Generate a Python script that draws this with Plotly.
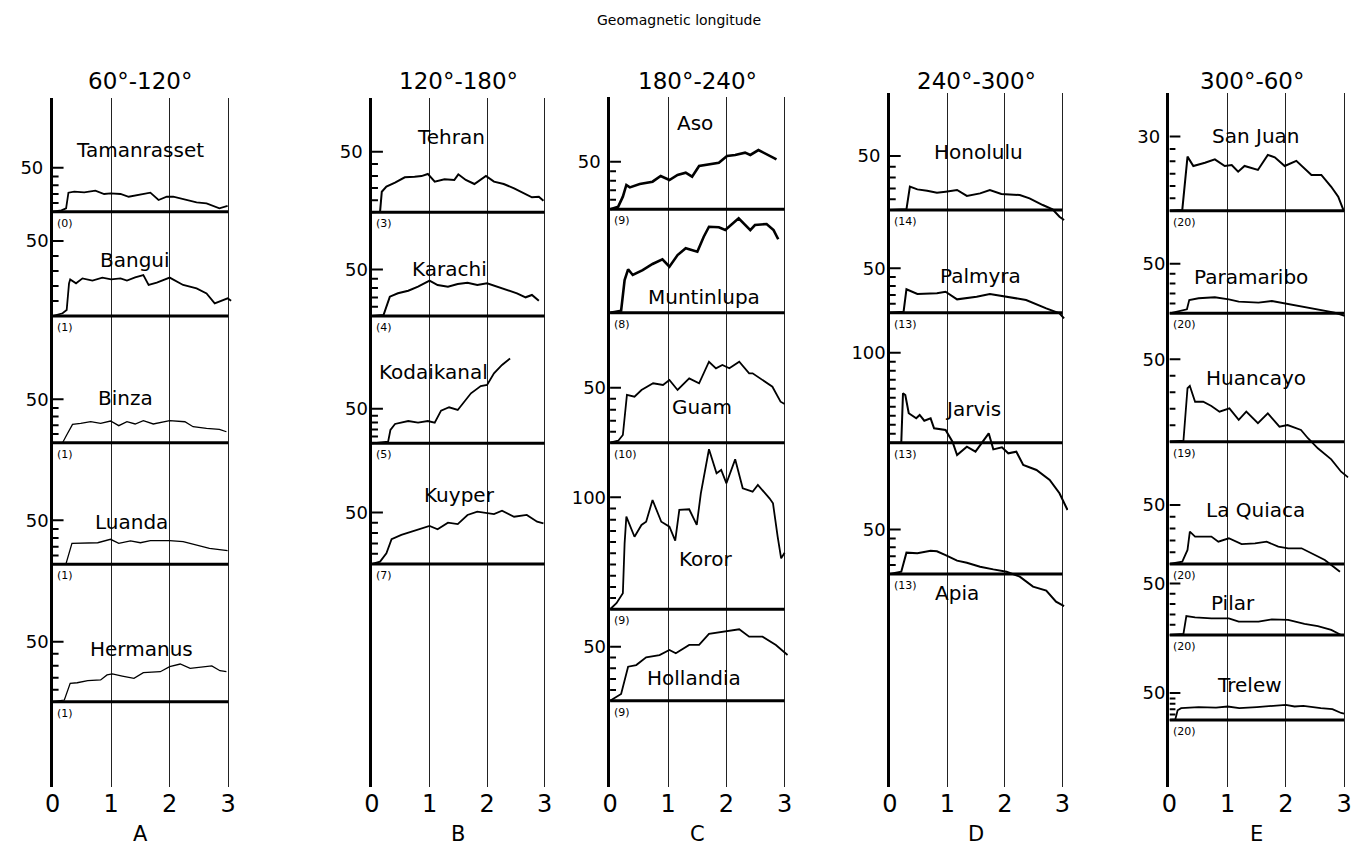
import plotly.graph_objects as go

W, H = 1352, 848
FONT = "DejaVu Sans"

# ---------------- data (hours after onset vs. amplitude) ----------------
TAMANRASSET_X = [0, 0.15, 0.23, 0.27, 0.37, 0.54, 0.73, 0.88, 0.99, 1.16, 1.30, 1.47, 1.67, 1.81, 1.95, 2.06, 2.23, 2.46, 2.63, 2.85, 2.99]
TAMANRASSET_Y = [0, 1.5, 3.8, 21.6, 22.7, 22, 23.9, 20.1, 20.8, 20.1, 17, 19, 21.6, 13.3, 17, 17, 14, 10.6, 9.5, 3.8, 6.5]

BANGUI_X = [0, 0.17, 0.24, 0.28, 0.30, 0.40, 0.51, 0.68, 0.85, 1.00, 1.16, 1.27, 1.41, 1.55, 1.64, 1.78, 2.00, 2.23, 2.46, 2.63, 2.77, 2.91, 2.99, 3.05]
BANGUI_Y = [0, 1.8, 4, 21.8, 24.4, 21.8, 25.1, 23.6, 25.6, 24.4, 25.1, 23.6, 25.8, 27.3, 20.7, 22.2, 25.6, 20.7, 18.4, 15.1, 8.4, 10.7, 11.8, 10.2]

BINZA_X = [0, 0.17, 0.24, 0.34, 0.48, 0.65, 0.82, 0.99, 1.13, 1.27, 1.41, 1.55, 1.72, 2.00, 2.26, 2.40, 2.63, 2.85, 2.97]
BINZA_Y = [0, 0, 8.9, 21.1, 22.3, 24.1, 22.3, 24.9, 19.6, 24.1, 21.5, 25.3, 21.5, 25.3, 24.1, 18.4, 16.5, 15.4, 12.6]

LUANDA_X = [0, 0.23, 0.33, 0.54, 0.77, 0.99, 1.13, 1.33, 1.50, 1.67, 2.00, 2.23, 2.46, 2.68, 2.99]
LUANDA_Y = [0, 1.1, 23.9, 24.5, 24.5, 28.4, 23.9, 26.5, 24.5, 26.8, 26.8, 25.7, 21.9, 18.2, 15.5]

HERMANUS_X = [0, 0.20, 0.30, 0.42, 0.60, 0.82, 0.93, 1.02, 1.19, 1.39, 1.55, 1.84, 2.00, 2.18, 2.35, 2.52, 2.72, 2.86, 2.97]
HERMANUS_Y = [0, 1.4, 15.3, 15.8, 17.5, 18.1, 22.3, 23.1, 21.4, 19.5, 24.2, 25.0, 29.2, 31.4, 27.8, 28.7, 29.8, 25.8, 25.0]

TEHRAN_X = [0, 0.14, 0.17, 0.25, 0.40, 0.57, 0.74, 0.86, 0.97, 1.09, 1.26, 1.43, 1.50, 1.63, 1.78, 1.98, 2.12, 2.29, 2.47, 2.64, 2.78, 2.90, 2.98]
TEHRAN_Y = [0, 0.5, 17, 21.2, 24.5, 28.9, 29.4, 29.9, 31.7, 25.3, 27.3, 26.7, 31.4, 26.7, 23.4, 30, 25.3, 23.4, 19.8, 15.7, 12.4, 12.9, 9.6]

KARACHI_X = [0, 0.20, 0.31, 0.45, 0.63, 0.80, 1.00, 1.14, 1.32, 1.49, 1.66, 1.83, 2.00, 2.18, 2.35, 2.52, 2.67, 2.78, 2.90]
KARACHI_Y = [0, 1, 20.8, 24.4, 27.2, 31.5, 38, 33.3, 31.5, 34.4, 35.8, 33.3, 35.2, 31.5, 27.2, 24.4, 20.1, 22.6, 16.5]

KODAIKANAL_X = [0, 0.28, 0.32, 0.40, 0.63, 0.80, 0.97, 1.09, 1.20, 1.34, 1.49, 1.72, 1.89, 2.00, 2.12, 2.26, 2.40]
KODAIKANAL_Y = [0, 2.3, 19.3, 28, 32.3, 29.9, 32.3, 29.9, 47.3, 52.2, 48.3, 72.5, 83, 84.5, 101.4, 113.5, 123]

KUYPER_X = [0, 0.14, 0.25, 0.34, 0.51, 0.74, 1.00, 1.14, 1.32, 1.49, 1.66, 1.83, 2.00, 2.12, 2.26, 2.47, 2.69, 2.87, 2.98]
KUYPER_Y = [0, 2.3, 10.4, 24, 28.2, 32.3, 36.9, 33.7, 40.1, 38.8, 47.6, 50.8, 49.2, 48.5, 51.7, 45.9, 47.6, 41.1, 39.5]

ASO_X = [0, 0.14, 0.22, 0.28, 0.34, 0.51, 0.73, 0.87, 1.02, 1.16, 1.30, 1.41, 1.53, 1.70, 1.87, 2.01, 2.15, 2.32, 2.41, 2.55, 2.69, 2.86]
ASO_Y = [0, 2.8, 13.3, 25.6, 23.1, 26.6, 29.1, 35, 30.8, 36.1, 38.5, 34.3, 45.6, 47.7, 49.1, 56.1, 57.2, 59.6, 57.2, 62.4, 58.2, 52.6]

MUNTINLUPA_X = [0, 0.19, 0.25, 0.31, 0.39, 0.56, 0.73, 0.90, 1.02, 1.16, 1.30, 1.50, 1.61, 1.70, 1.87, 1.98, 2.21, 2.41, 2.49, 2.69, 2.81, 2.89]
MUNTINLUPA_Y = [0, 2.1, 34.4, 45.7, 39.7, 44.9, 51.3, 56.2, 48.4, 60.7, 67.8, 64.2, 80, 90.5, 89.9, 87, 99.4, 87, 92.3, 93.4, 87, 77.3]

GUAM_X = [0, 0.14, 0.22, 0.29, 0.42, 0.54, 0.74, 0.91, 1.02, 1.16, 1.36, 1.53, 1.70, 1.82, 1.93, 2.05, 2.22, 2.39, 2.45, 2.62, 2.79, 2.93, 3.00]
GUAM_Y = [0, 1.8, 7, 43.4, 41.8, 47.9, 54, 52.5, 57, 47.9, 58.5, 54, 73.6, 67.6, 70.6, 67.6, 73.6, 63.1, 63.1, 57, 50.9, 37.3, 35.2]

KOROR_X = [0, 0.11, 0.22, 0.25, 0.28, 0.42, 0.54, 0.62, 0.73, 0.88, 1.02, 1.12, 1.19, 1.36, 1.49, 1.56, 1.70, 1.83, 1.91, 2.00, 2.15, 2.28, 2.45, 2.54, 2.74, 2.80, 2.88, 2.94, 3.00]
KOROR_Y = [0, 5.4, 14.3, 58.9, 82.7, 64.8, 75.3, 78.2, 97.6, 78.2, 73.8, 61.3, 88.7, 89.3, 75.3, 103.6, 142.9, 121.4, 124.4, 112.5, 133.9, 108, 105, 111, 99.1, 94.6, 64.8, 45.5, 50.5]

HOLLANDIA_X = [0, 0.19, 0.31, 0.45, 0.62, 0.85, 1.02, 1.13, 1.36, 1.53, 1.70, 1.99, 2.22, 2.39, 2.62, 2.85, 3.05]
HOLLANDIA_Y = [0, 6.2, 31.5, 33, 40.2, 42.3, 46.9, 43.9, 51.6, 51.6, 61.8, 63.9, 66.1, 59.3, 59.3, 51.6, 42.3]

HONOLULU_X = [0, 0.29, 0.35, 0.48, 0.65, 0.82, 0.97, 1.17, 1.34, 1.57, 1.74, 1.94, 2.26, 2.43, 2.66, 2.83, 2.95, 3.03]
HONOLULU_Y = [0, 0.6, 21.6, 19.1, 17.9, 16, 17, 18.5, 13, 15.4, 18.5, 14.8, 13.9, 10.8, 4.6, 0.6, -6.2, -9.3]

PALMYRA_X = [0, 0.24, 0.29, 0.48, 0.82, 0.97, 1.17, 1.51, 1.74, 2.03, 2.37, 2.72, 2.95, 3.03]
PALMYRA_Y = [0, 1.1, 26.3, 21, 21.8, 23.6, 15, 18, 21, 18, 14.3, 4.9, -0.7, -6.3]

JARVIS_X = [0, 0.20, 0.23, 0.27, 0.33, 0.46, 0.52, 0.60, 0.71, 0.77, 0.97, 1.09, 1.17, 1.34, 1.49, 1.63, 1.72, 1.80, 1.95, 2.06, 2.20, 2.32, 2.55, 2.78, 2.95, 3.09]
JARVIS_Y = [0, 0, 54.9, 53, 32.7, 27.1, 30.8, 24.4, 27.1, 16, 14.1, 1.1, -13.7, -4.4, -10, 3, 10.4, -7.4, -5.2, -11.8, -10, -24.8, -30.3, -41.4, -56.2, -74.8]

APIA_X = [0, 0.20, 0.29, 0.48, 0.71, 0.82, 0.97, 1.17, 1.34, 1.57, 1.80, 2.03, 2.26, 2.49, 2.72, 2.89, 3.03]
APIA_Y = [0, 2.6, 24, 23.3, 26.2, 25.5, 21.3, 15, 12.7, 8.2, 5.2, 2.6, -3, -14.2, -18.7, -31.1, -36]

SANJUAN_X = [0, 0.22, 0.31, 0.41, 0.61, 0.78, 0.95, 1.07, 1.18, 1.29, 1.52, 1.69, 1.81, 1.98, 2.18, 2.32, 2.44, 2.61, 2.78, 2.90, 3.00]
SANJUAN_Y = [0, 0.3, 21.9, 18.1, 19.4, 20.8, 18.1, 18.5, 15.8, 18.1, 16.5, 22.6, 21.6, 18.1, 20.2, 17.2, 14.5, 14.5, 9.7, 5.7, -0.4]

PARAMARIBO_X = [0, 0.21, 0.30, 0.34, 0.50, 0.78, 1.02, 1.19, 1.53, 1.76, 2.04, 2.33, 2.61, 2.84, 3.01]
PARAMARIBO_Y = [0, 2.6, 4, 13.4, 15.2, 16.2, 14.1, 11.7, 10.7, 12.4, 9.4, 6.7, 3.3, 0.6, -2.7]

HUANCAYO_X = [0, 0.24, 0.31, 0.35, 0.44, 0.58, 0.72, 0.86, 1.03, 1.19, 1.32, 1.52, 1.69, 1.89, 2.03, 2.26, 2.38, 2.55, 2.78, 2.95, 3.07]
HUANCAYO_Y = [0, 0.6, 32.4, 33.8, 24.2, 24.2, 21.6, 18.2, 20.2, 13.2, 18.2, 11.2, 17.2, 9.1, 10.1, 7.1, 2.1, -4, -10.7, -18.2, -21.6]

LAQUIACA_X = [0, 0.22, 0.31, 0.35, 0.44, 0.72, 0.84, 1.02, 1.24, 1.47, 1.67, 1.87, 2.04, 2.27, 2.50, 2.67, 2.78, 2.93]
LAQUIACA_Y = [0, 2, 11.9, 27.4, 23.2, 23.2, 18.9, 21.8, 16.9, 17.5, 18.9, 14.7, 13.3, 13.3, 7.6, 3.4, -0.8, -6.5]

PILAR_X = [0, 0.24, 0.29, 0.44, 0.72, 1.02, 1.19, 1.53, 1.76, 2.04, 2.32, 2.55, 2.78, 2.95]
PILAR_Y = [0, 1, 18.4, 17.2, 16.2, 16.2, 12.9, 12.9, 15.2, 14.6, 10.7, 8.7, 4.9, 0]

TRELEW_X = [0, 0.10, 0.14, 0.20, 0.50, 0.80, 1.00, 1.20, 1.50, 1.80, 2.00, 2.15, 2.30, 2.60, 2.80, 2.95, 3.00]
TRELEW_Y = [0, 1, 18, 22, 24, 23, 25, 22, 24, 27, 28, 25, 26, 22, 20, 13, 12]

PANEL_LETTERS = ["A", "B", "C", "D", "E"]
PANEL_HEADERS = ["60°-120°", "120°-180°", "180°-240°", "240°-300°", "300°-60°"]
X_TICKS = [0, 1, 2, 3]
TITLE = "Geomagnetic longitude"

# ---------------- layout geometry (pixels) ----------------
PANEL_X0 = [45, 367, 607, 889, 1171]
PANEL_X3 = [222, 541, 783, 1063, 1347]
PANEL_XMAX = [3.1, 3.1, 3.1, 3.1, 3.08]
PANEL_TOP = [98, 98, 97, 93, 93]
PANEL_BOTTOM = 787
HEADER_SHIFT = [0, 0, 0, 0, -0.08]
MAJOR_TICK_PX = 11
MINOR_TICK_PX = 6

# panel, name, count, x, y, baseline px, px per unit, tick step, labelled tick, name pos px, line width
STATIONS = [
    (0, "Tamanrasset", 0, TAMANRASSET_X, TAMANRASSET_Y, 211.7, 0.88, 10, 50, (133, 150), 1.8),
    (0, "Bangui", 1, BANGUI_X, BANGUI_Y, 316, 1.5, 10, 50, (128, 260), 1.8),
    (0, "Binza", 1, BINZA_X, BINZA_Y, 442.7, 0.87, 10, 50, (118, 398), 1.3),
    (0, "Luanda", 1, LUANDA_X, LUANDA_Y, 564.3, 0.88, 10, 50, (125, 522), 1.3),
    (0, "Hermanus", 1, HERMANUS_X, HERMANUS_Y, 701.7, 1.2, 10, 50, (135, 649), 1.3),
    (1, "Tehran", 3, TEHRAN_X, TEHRAN_Y, 212.3, 1.21, 10, 50, (447, 137), 2.0),
    (1, "Karachi", 4, KARACHI_X, KARACHI_Y, 316, 0.93, 10, 50, (445, 269), 2.0),
    (1, "Kodaikanal", 5, KODAIKANAL_X, KODAIKANAL_Y, 443.3, 0.69, 10, 50, (429, 372), 1.8),
    (1, "Kuyper", 7, KUYPER_X, KUYPER_Y, 564, 1.03, 10, 50, (455, 495), 1.8),
    (2, "Aso", 9, ASO_X, ASO_Y, 209.3, 0.95, 10, 50, (693, 123), 2.6),
    (2, "Muntinlupa", 8, MUNTINLUPA_X, MUNTINLUPA_Y, 312.7, 0.95, None, None, (702, 297), 2.6),
    (2, "Guam", 10, GUAM_X, GUAM_Y, 442.7, 1.1, 10, 50, (700, 407), 1.8),
    (2, "Koror", 9, KOROR_X, KOROR_Y, 609.3, 1.12, 10, 100, (703, 559), 1.8),
    (2, "Hollandia", 9, HOLLANDIA_X, HOLLANDIA_Y, 700.7, 1.08, 10, 50, (692, 678), 1.8),
    (3, "Honolulu", 14, HONOLULU_X, HONOLULU_Y, 210, 1.08, 10, 50, (978, 152), 2.0),
    (3, "Palmyra", 13, PALMYRA_X, PALMYRA_Y, 312.7, 0.89, 10, 50, (980, 276), 2.0),
    (3, "Jarvis", 13, JARVIS_X, JARVIS_Y, 442.7, 0.9, 10, 100, (973, 409), 2.0),
    (3, "Apia", 13, APIA_X, APIA_Y, 574, 0.89, 10, 50, (957, 593), 2.0),
    (4, "San Juan", 20, SANJUAN_X, SANJUAN_Y, 210.7, 2.47, 5, 30, (1258, 136), 2.0),
    (4, "Paramaribo", 20, PARAMARIBO_X, PARAMARIBO_Y, 313.3, 0.99, 10, 50, (1253, 277), 1.8),
    (4, "Huancayo", 19, HUANCAYO_X, HUANCAYO_Y, 441.7, 1.65, 10, 50, (1258, 378), 1.8),
    (4, "La Quiaca", 20, LAQUIACA_X, LAQUIACA_Y, 564, 1.18, 10, 50, (1258, 510), 1.8),
    (4, "Pilar", 20, PILAR_X, PILAR_Y, 635, 1.03, 10, 50, (1235, 603), 1.8),
    (4, "Trelew", 20, TRELEW_X, TRELEW_Y, 720, 0.54, 10, 50, (1252, 685), 1.8),
]

fig = go.Figure()
layout = dict(
    width=W, height=H, margin=dict(l=0, r=0, t=0, b=0),
    paper_bgcolor="white", plot_bgcolor="rgba(0,0,0,0)", showlegend=False,
    font=dict(family=FONT, color="black"),
)
annotations, shapes = [], []
main_axis = {}

for k, (p, name, cnt, xs, ys, base, s, step, lab, npos, lw) in enumerate(STATIONS, start=1):
    xname = "x" if p == 0 else f"x{p + 1}"
    yname = "y" if k == 1 else f"y{k}"
    top = PANEL_TOP[p]
    unit = (PANEL_X3[p] - PANEL_X0[p]) / 3  # px per hour
    ydom = [1 - PANEL_BOTTOM / H, 1 - top / H]
    yrange = [(base - PANEL_BOTTOM) / s, (base - top) / s]
    if step:
        tv = list(range(step, lab + 1, step))
        tt = [str(v) if v == lab else "" for v in tv]
    else:
        tv, tt = [], []
    yax = dict(domain=ydom, range=yrange, anchor=xname, showgrid=False, zeroline=False,
               tickmode="array", tickvals=tv, ticktext=tt, ticks="", showticklabels=True,
               ticklabelstandoff=3,
               tickfont=dict(size=18, family=FONT, color="black"), fixedrange=True)
    if p not in main_axis:
        main_axis[p] = yname
        yax.update(showline=True, linewidth=2.5, linecolor="black")
        xmax = PANEL_XMAX[p]
        layout["xaxis" if p == 0 else f"xaxis{p + 1}"] = dict(
            domain=[PANEL_X0[p] / W, min(1.0, (PANEL_X0[p] + xmax * unit) / W)],
            range=[0, xmax], anchor=yname, tickmode="array", tickvals=X_TICKS,
            ticktext=[str(v) for v in X_TICKS], showgrid=True, gridcolor="#222",
            gridwidth=1, zeroline=False, showline=False, ticks="",
            ticklabeloverflow="allow",
            tickfont=dict(size=24, family=FONT, color="black"),
            ticklabelstandoff=0, fixedrange=True)
    else:
        yax.update(overlaying=main_axis[p], showline=False)
    layout["yaxis" if k == 1 else f"yaxis{k}"] = yax

    fig.add_trace(go.Scatter(x=xs, y=ys, xaxis=xname, yaxis=yname, mode="lines",
                             line=dict(color="black", width=lw), hoverinfo="skip"))

    # inward tick marks at this station's scale values (short segments from the axis)
    if tv:
        tx, ty = [], []
        for v in tv:
            ln = (MAJOR_TICK_PX if v == lab else MINOR_TICK_PX) / unit
            tx += [0, ln, None]
            ty += [v, v, None]
        fig.add_trace(go.Scatter(x=tx, y=ty, xaxis=xname, yaxis=yname, mode="lines",
                                 hoverinfo="skip", line=dict(color="black", width=2)))

    shapes.append(dict(type="line", xref=xname, yref=yname, x0=0, x1=3, y0=0, y1=0,
                       line=dict(color="black", width=3)))
    annotations.append(dict(text=f"({cnt})", xref=xname, yref=yname, x=0, y=0,
                            xanchor="left", yanchor="top", xshift=2, yshift=-3,
                            showarrow=False, font=dict(size=11, family=FONT)))
    annotations.append(dict(text=name, xref="paper", yref="paper",
                            x=npos[0] / W, y=1 - npos[1] / H, xanchor="center",
                            yanchor="middle", showarrow=False,
                            font=dict(size=20, family=FONT)))

for p in range(5):
    xname = "x" if p == 0 else f"x{p + 1}"
    annotations.append(dict(text=PANEL_HEADERS[p], xref=xname, yref="paper",
                            x=1.5 + HEADER_SHIFT[p], y=1 - 81 / H, xanchor="center",
                            yanchor="middle", showarrow=False,
                            font=dict(size=23, family=FONT)))
    annotations.append(dict(text=PANEL_LETTERS[p], xref=xname, yref="paper", x=1.5,
                            y=1 - 834 / H, xanchor="center", yanchor="middle",
                            showarrow=False, font=dict(size=21, family=FONT)))

annotations.append(dict(text=TITLE, xref="paper", yref="paper", x=676 / W, y=1 - 20 / H,
                        xanchor="center", yanchor="middle", showarrow=False,
                        font=dict(size=14, family=FONT)))

layout["annotations"] = annotations
layout["shapes"] = shapes
fig.update_layout(**layout)
fig.write_html("out.html")
